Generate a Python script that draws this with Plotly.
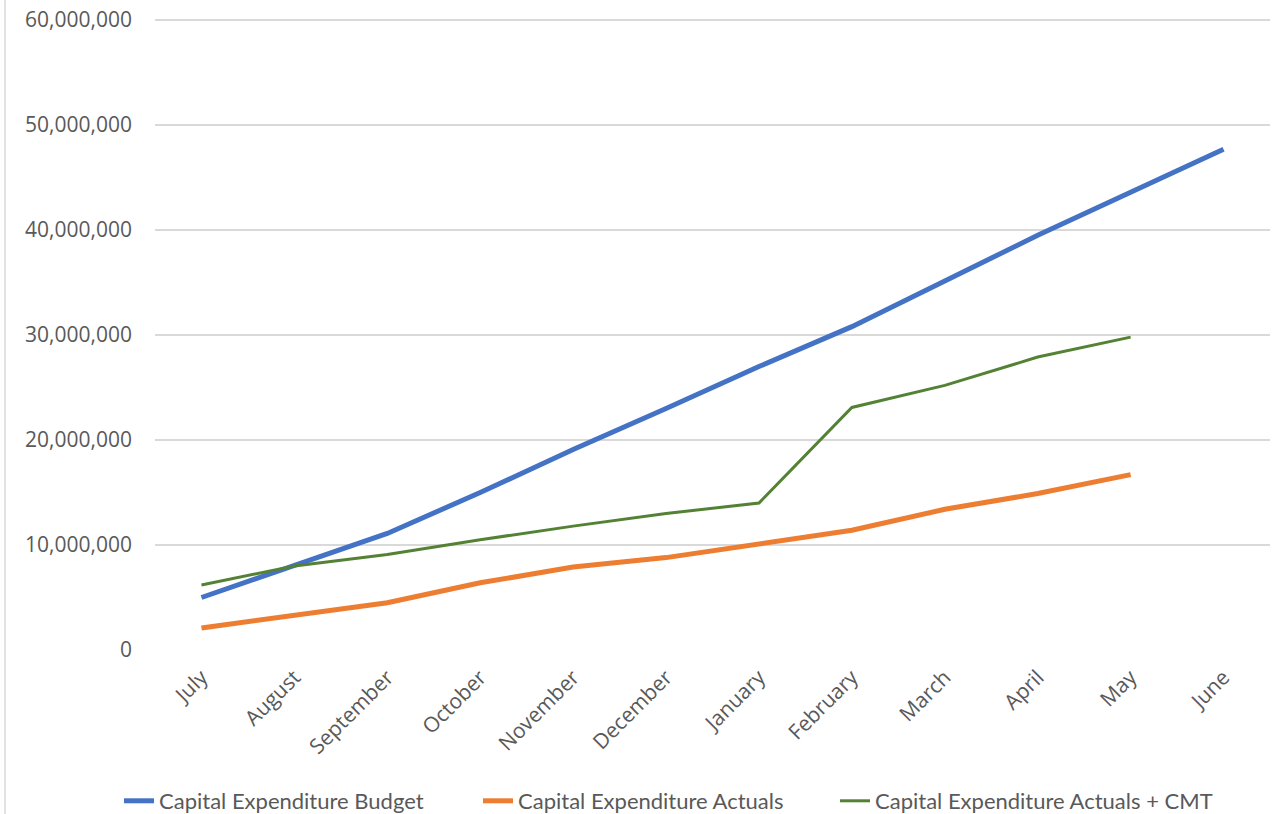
import plotly.graph_objects as go

months = ["July", "August", "September", "October", "November", "December",
          "January", "February", "March", "April", "May", "June"]
budget = [5.0e6, 8.0e6, 11.1e6, 15.0e6, 19.1e6, 23.0e6, 27.0e6, 30.8e6, 35.1e6, 39.5e6, 43.6e6, 47.7e6]
actuals = [2.1e6, 3.3e6, 4.5e6, 6.4e6, 7.9e6, 8.8e6, 10.1e6, 11.4e6, 13.4e6, 14.9e6, 16.7e6]
actuals_cmt = [6.2e6, 8.0e6, 9.1e6, 10.5e6, 11.8e6, 13.0e6, 14.0e6, 23.1e6, 25.2e6, 27.9e6, 29.8e6]
y_ticks = [0, 10e6, 20e6, 30e6, 40e6, 50e6, 60e6]

W, H = 1281, 814
L, R, T, B = 155, 11, 19, 164
PW, PH = W - L - R, H - T - B

fig = go.Figure()
fig.add_trace(go.Scatter(x=months, y=budget, mode="lines", name="Capital Expenditure Budget",
                         line=dict(color="#4472C4", width=5), legend="legend"))
fig.add_trace(go.Scatter(x=months[:len(actuals)], y=actuals, mode="lines", name="Capital Expenditure Actuals",
                         line=dict(color="#ED7D31", width=5), legend="legend2"))
fig.add_trace(go.Scatter(x=months[:len(actuals_cmt)], y=actuals_cmt, mode="lines",
                         name="Capital Expenditure Actuals + CMT",
                         line=dict(color="#548235", width=3), legend="legend3"))

leg_font = dict(family="Lato", size=22, color="#595959")
def leg(xpx):
    return dict(orientation="h", xref="container", yref="container",
                x=xpx / W, xanchor="left", y=1 - 801 / H, yanchor="middle",
                font=leg_font, bgcolor="rgba(0,0,0,0)")

fig.update_layout(
    width=W, height=H,
    margin=dict(l=L, r=R, t=T, b=B, autoexpand=False),
    paper_bgcolor="white", plot_bgcolor="white",
    font=dict(family="Open Sans", size=21, color="#595959"),
    xaxis=dict(type="category", categoryorder="array", categoryarray=months,
               range=[-0.5, 11.5], tickangle=-45, showgrid=False, showline=False,
               ticks="", tickfont=dict(size=21), automargin=False,
               ticklabelstandoff=10, ticklabeloverflow="allow"),
    yaxis=dict(range=[0, 60.1e6], tickvals=y_ticks, tickformat=",d", showgrid=True,
               gridcolor="#D9D9D9", gridwidth=1.5, zeroline=False, showline=False,
               ticks="", ticklen=0, tickfont=dict(size=21), automargin=False,
               ticklabelstandoff=22, ticklabeloverflow="allow"),
    showlegend=True,
    legend=leg(119),
    legend2=leg(478),
    legend3=leg(835),
    shapes=[dict(type="line", xref="paper", yref="paper",
                 x0=(-L + 5) / PW, x1=(-L + 5) / PW, y0=-B / PH, y1=1 + T / PH,
                 line=dict(color="#D9D9D9", width=1.5))],
)

fig.write_html("out.html", config={"displayModeBar": False},
               post_script="document.body.style.margin='0';document.body.style.overflow='hidden';")
